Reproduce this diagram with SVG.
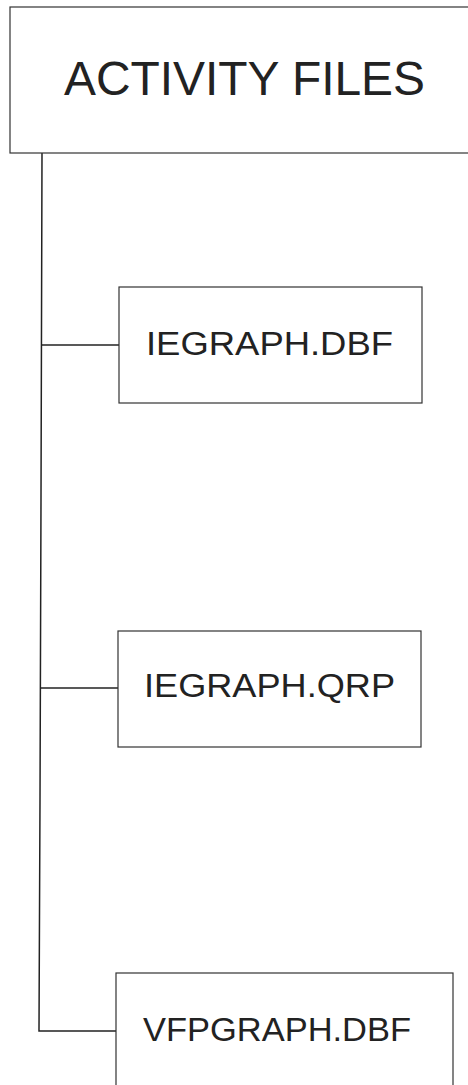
<svg xmlns="http://www.w3.org/2000/svg" width="468" height="1085" viewBox="0 0 468 1085">
<style>
.box{fill:#fff;stroke:#333;stroke-width:1.2}
.lbl{font-family:"Liberation Sans",Arial,sans-serif;fill:#222}
.conn{fill:none;stroke:#222;stroke-width:1.5}
</style>
<rect width="468" height="1085" fill="#fff"/>
<g id="connectors">
<polyline class="conn" points="42,153 41,500 40,800 39,1031 116,1031"/>
<line class="conn" x1="42" y1="345" x2="119" y2="345"/>
<line class="conn" x1="40" y1="688" x2="118" y2="688"/>
</g>
<g id="activity-files">
<rect class="box" x="10" y="7" width="470" height="146"/>
<text class="lbl" x="64" y="95" font-size="48" textLength="361" lengthAdjust="spacingAndGlyphs">ACTIVITY FILES</text>
</g>
<g id="iegraph-dbf">
<rect class="box" x="119" y="287" width="303" height="116"/>
<text class="lbl" x="146" y="355" font-size="33" textLength="247" lengthAdjust="spacingAndGlyphs">IEGRAPH.DBF</text>
</g>
<g id="iegraph-qrp">
<rect class="box" x="118" y="631" width="303" height="116"/>
<text class="lbl" x="144" y="697" font-size="33" textLength="251" lengthAdjust="spacingAndGlyphs">IEGRAPH.QRP</text>
</g>
<g id="vfpgraph-dbf">
<rect class="box" x="116" y="973" width="337" height="130"/>
<text class="lbl" x="143" y="1041" font-size="33" textLength="268" lengthAdjust="spacingAndGlyphs">VFPGRAPH.DBF</text>
</g>
</svg>
